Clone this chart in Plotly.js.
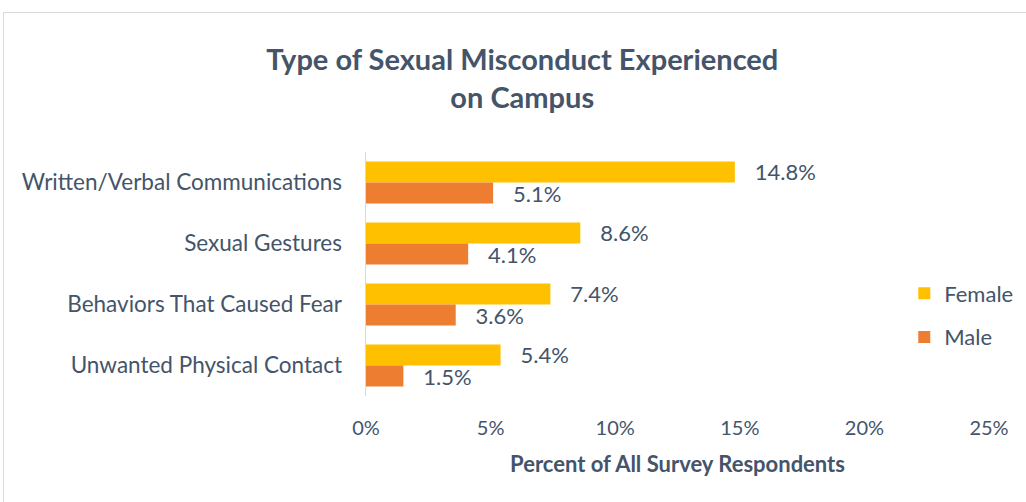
<!DOCTYPE html>
<html>
<head>
<meta charset="utf-8">
<script src="https://cdn.plot.ly/plotly-3.0.1.min.js"></script>
<style>
html,body{margin:0;padding:0;background:#fff;}
#wrap{position:relative;width:1026px;height:502px;overflow:hidden;}
#chart{width:1026px;height:502px;}
#frame{position:absolute;left:3px;top:12px;width:1040px;height:520px;border:1.5px solid #D9D9D9;pointer-events:none;}
</style>
</head>
<body>
<div id="wrap"><div id="chart"></div><div id="frame"></div></div>
<script>
const categories = ["Written/Verbal Communications", "Sexual Gestures", "Behaviors That Caused Fear", "Unwanted Physical Contact"];
const female = [14.8, 8.6, 7.4, 5.4];
const male = [5.1, 4.1, 3.6, 1.5];
const tickVals = [0, 5, 10, 15, 20, 25];
const tickText = ["0%", "5%", "10%", "15%", "20%", "25%"];

const txtColor = "#44546A";
const fontFam = "Lato, 'Open Sans', sans-serif";

const fmt = v => "\u00a0\u00a0\u00a0" + v.toFixed(1) + "%";

const traces = [
  {type:"bar", orientation:"h", name:"Female", legendgroup:"f", y:categories, x:female,
   marker:{color:"#FFC000"}, text:female.map(fmt), textposition:"outside", constraintext:"none",
   textfont:{size:22, color:txtColor, family:fontFam}, cliponaxis:false, hoverinfo:"x+y"},
  {type:"bar", orientation:"h", name:"Male", legendgroup:"m", y:categories, x:male,
   marker:{color:"#ED7D31"}, text:male.map(fmt), textposition:"outside", constraintext:"none",
   textfont:{size:22, color:txtColor, family:fontFam}, cliponaxis:false, hoverinfo:"x+y"}
];

const layout = {
  width:1026, height:502,
  margin:{l:366, r:37, t:152, b:106, autoexpand:false},
  paper_bgcolor:"#fff", plot_bgcolor:"#fff",
  font:{family:fontFam, color:txtColor, size:22},
  title:{text:"<b>Type of Sexual Misconduct Experienced<br>on Campus</b>",
    font:{size:29, color:txtColor, family:fontFam},
    xref:"container", x:0.509, xanchor:"center", yref:"container", y:0.86, yanchor:"top"},
  barmode:"group", bargap:0.31, bargroupgap:0,
  xaxis:{range:[0,25], tickvals:tickVals, ticktext:tickText, showgrid:false, zeroline:false,
    showline:false, ticks:"", tickfont:{size:20, color:txtColor}, ticklabelstandoff:18,
    title:{text:"<b>Percent of All Survey Respondents</b>", font:{size:22, color:txtColor}, standoff:18}},
  yaxis:{autorange:"reversed", showgrid:false, zeroline:false, showline:true, linecolor:"#D9D9D9", linewidth:1.5,
    ticks:"", tickfont:{size:22.5, color:txtColor}, ticklabelstandoff:18},
  legend:{x:0.864, xanchor:"left", y:0.33, yanchor:"middle", font:{size:22, color:txtColor},
    traceorder:"grouped", itemwidth:30, tracegroupgap:12, bgcolor:"rgba(0,0,0,0)"},
  showlegend:true
};

Plotly.newPlot("chart", traces, layout, {displayModeBar:false, staticPlot:true});
</script>
</body>
</html>
